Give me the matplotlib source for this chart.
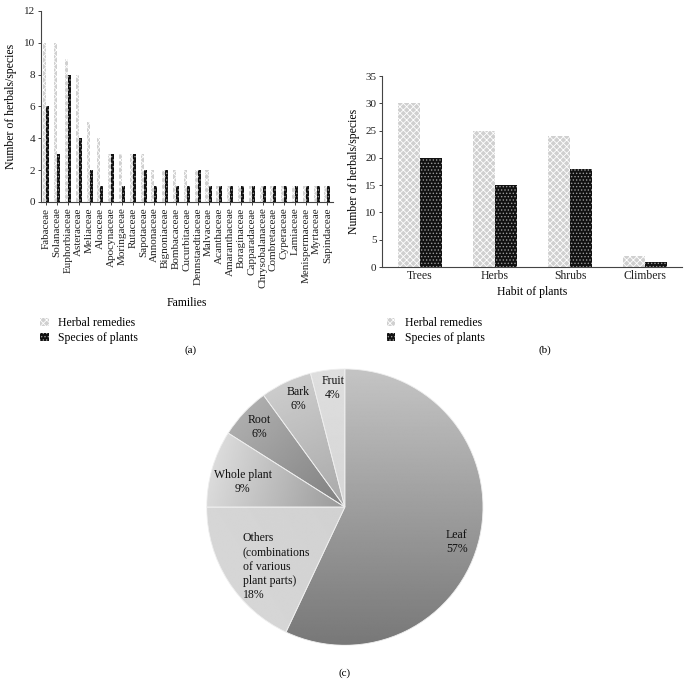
import numpy as np
import matplotlib
matplotlib.use("Agg")
from matplotlib import pyplot as plt
from matplotlib.patches import Patch

plt.rcParams['font.family'] = ['Liberation Serif', 'DejaVu Serif']
plt.rcParams['font.size'] = 8
plt.rcParams['hatch.linewidth'] = 0.6

# (a) families
families = ['Fabaceae', 'Solanaceae', 'Euphorbiaceae', 'Asteraceae', 'Meliaceae',
            'Aloaceae', 'Apocynaceae', 'Moringaceae', 'Rutaceae', 'Sapotaceae',
            'Annonaceae', 'Bignoniaceae', 'Bombacaceae', 'Cucurbitaceae',
            'Dennstaedtiaceae', 'Malvaceae', 'Acanthaceae', 'Amaranthaceae',
            'Boraginaceae', 'Capparadaceae', 'Chrysobalanaceae', 'Combretaceae',
            'Cyperaceae', 'Lamiaceae', 'Menispermaceae', 'Myrtaceae', 'Sapindaceae']
fam_herbal = [10, 10, 9, 8, 5, 4, 3, 3, 3, 3, 2, 2, 2, 2, 2, 2,
              1, 1, 1, 1, 1, 1, 1, 1, 1, 1, 1]
fam_species = [6, 3, 8, 4, 2, 1, 3, 1, 3, 2, 1, 2, 1, 1, 2, 1,
               1, 1, 1, 1, 1, 1, 1, 1, 1, 1, 1]

# (b) habit
habits = ['Trees', 'Herbs', 'Shrubs', 'Climbers']
habit_herbal = [30, 25, 24, 2]
habit_species = [20, 15, 18, 1]

# (c) plant parts (counterclockwise from top)
parts = ['Fruit', 'Bark', 'Root', 'Whole plant', 'Others', 'Leaf']
part_pct = [4, 6, 6, 9, 18, 57]
part_labels = ['Fruit\n4%', 'Bark\n6%', 'Root\n6%', 'Whole plant\n9%',
               'Others\n(combinations\nof various\nplant parts)\n18%', 'Leaf\n57%']

herbal_style = dict(facecolor='#d0d0d0', edgecolor='white', hatch='xxxxx', linewidth=0)
species_style = dict(facecolor='#111111', edgecolor='#9a9a9a', hatch='.....', linewidth=0)


def style_axes(ax):
    for s in ['top', 'right']:
        ax.spines[s].set_visible(False)
    for s in ['left', 'bottom']:
        ax.spines[s].set_color('#444444')
        ax.spines[s].set_linewidth(0.8)
    ax.tick_params(length=2, width=0.6, colors='#222222', pad=2)


def add_legend(ax, x, y):
    handles = [Patch(**herbal_style), Patch(**species_style)]
    fig.legend(handles, ['Herbal remedies', 'Species of plants'],
               loc='upper left', bbox_to_anchor=(x, y), frameon=False,
               handlelength=0.7, handleheight=0.7, handletextpad=0.8,
               labelspacing=0.25, fontsize=8.5, borderpad=0)


fig = plt.figure(figsize=(6.89, 6.84), dpi=100)

# ---- (a)
ax1 = fig.add_axes([0.0595, 0.7047, 0.4235, 0.2793])
x = np.arange(len(families))
w = 0.28
ax1.bar(x - w / 2, fam_herbal, w, **herbal_style)
ax1.bar(x + w / 2, fam_species, w, **species_style)
ax1.set_xlim(-0.5, len(families) - 0.5)
ax1.set_ylim(0, 12)
ax1.set_yticks(range(0, 13, 2))
ax1.set_xticks(x)
ax1.set_xticklabels(families, rotation=90, fontsize=8)
ax1.set_ylabel('Number of herbals/species', fontsize=8.5, labelpad=5)
ax1.set_xlabel('Families', fontsize=8.5, labelpad=6)
style_axes(ax1)
add_legend(ax1, 0.05, 0.545)
fig.text(0.276, 0.488, '(a)', ha='center', va='center', fontsize=8)

# ---- (b)
ax2 = fig.add_axes([0.5544, 0.6096, 0.4354, 0.2792])
x2 = np.arange(len(habits))
w2 = 0.29
ax2.bar(x2 - w2 / 2, habit_herbal, w2, **herbal_style)
ax2.bar(x2 + w2 / 2, habit_species, w2, **species_style)
ax2.set_xlim(-0.507, 3.493)
ax2.set_ylim(0, 35)
ax2.set_yticks(range(0, 36, 5))
ax2.set_xticks(x2)
ax2.set_xticklabels(habits, fontsize=8.5)
ax2.tick_params(axis='x', length=0)
ax2.set_ylabel('Number of herbals/species', fontsize=8.5, labelpad=4)
ax2.set_xlabel('Habit of plants', fontsize=8.5, labelpad=3)
style_axes(ax2)
ax2.tick_params(axis='x', length=0)
add_legend(ax2, 0.553, 0.545)
fig.text(0.791, 0.488, '(b)', ha='center', va='center', fontsize=8)

# ---- (c)
ax3 = fig.add_axes([0.296, 0.0526, 0.409, 0.412])
wedges, _ = ax3.pie(part_pct, startangle=90, counterclock=True, radius=1,
                    colors=['none'] * len(parts),
                    wedgeprops=dict(linewidth=0.6, edgecolor='#eeeeee'))
ax3.set_xlim(-1.02, 1.02)
ax3.set_ylim(-1.02, 1.02)
ax3.set_aspect('equal')
ax3.axis('off')

# gradient fills: (outer grey, inner grey)
grads = [(0.87, 0.84), (0.80, 0.66), (0.68, 0.50), (0.86, 0.60), (0.84, 0.82), None]
n = 400
gx, gy = np.meshgrid(np.linspace(-1, 1, n), np.linspace(1, -1, n))
for wdg, g in zip(wedges, grads):
    if g is None:
        # leaf: vertical gradient light top -> dark bottom
        t = (gy + 1) / 2
        val = 0.47 + (0.77 - 0.47) * t
    else:
        mid = np.deg2rad((wdg.theta1 + wdg.theta2) / 2)
        t = np.clip(gx * np.cos(mid) + gy * np.sin(mid), 0, 1)
        val = g[1] + (g[0] - g[1]) * t
    im = ax3.imshow(val, cmap='gray', vmin=0, vmax=1, extent=(-1, 1, -1, 1),
                    interpolation='bilinear', zorder=0)
    im.set_clip_path(wdg)
    wdg.set_zorder(1)

label_pos = [(-0.085, 0.865, 'center'), (-0.34, 0.78, 'center'), (-0.62, 0.58, 'center'),
             (-0.74, 0.18, 'center'), (-0.74, -0.43, 'left'), (0.81, -0.255, 'center')]
for lab, (lx, ly, ha) in zip(part_labels, label_pos):
    ax3.text(lx, ly, lab, ha=ha, va='center', fontsize=8.5, linespacing=1.25,
             multialignment=ha, color='#111111', zorder=3)
fig.text(0.5, 0.016, '(c)', ha='center', va='center', fontsize=8)

fig.savefig('out.png', dpi=100, facecolor='white')
